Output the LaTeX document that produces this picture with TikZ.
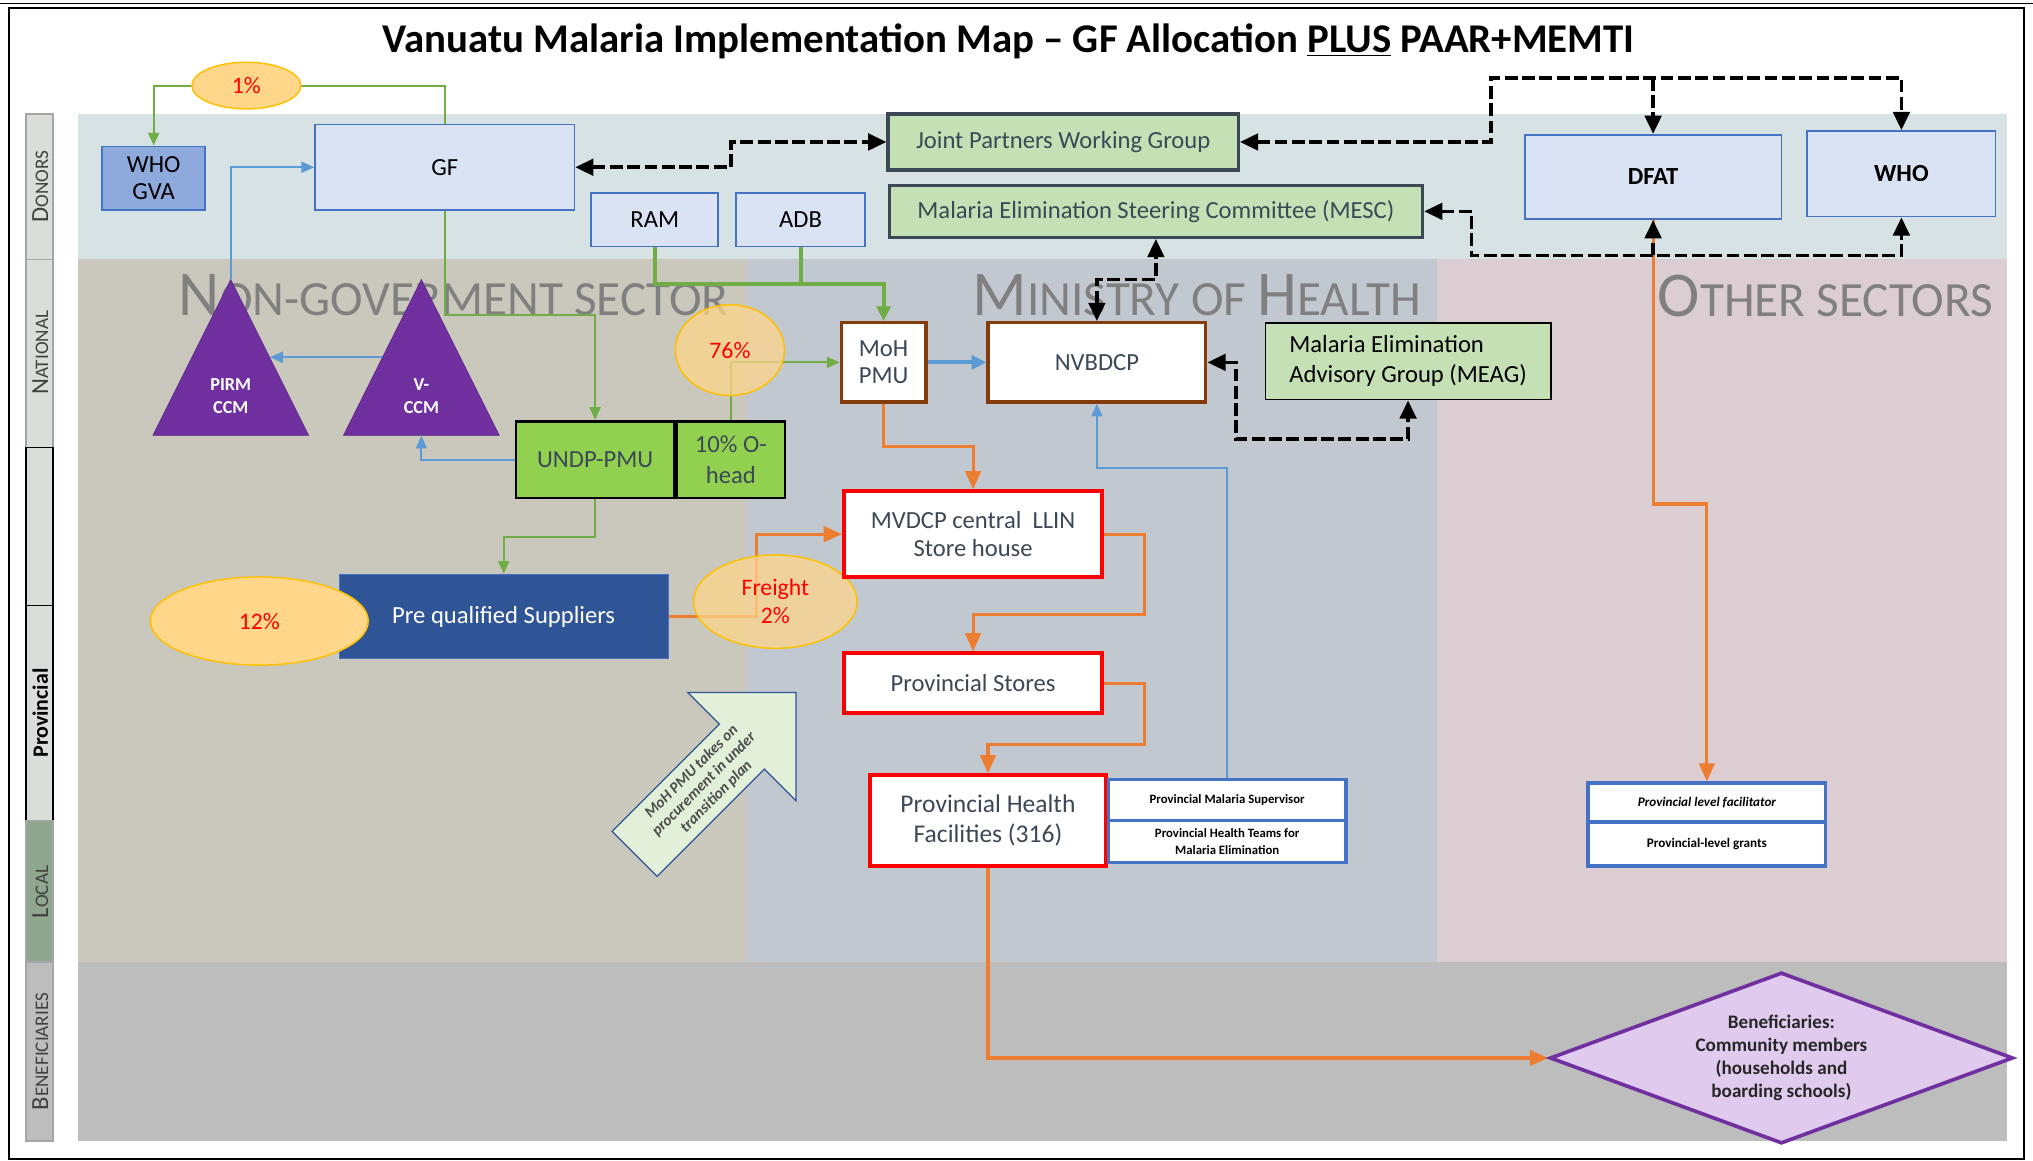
\documentclass[tikz,border=0pt]{standalone}
\usepackage{fontspec}
\setmainfont{Carlito}
\usetikzlibrary{arrows.meta, calc, positioning, shapes.geometric, shapes.arrows}
\definecolor{donorbg}{RGB}{214,226,227}
\definecolor{ngobg}{RGB}{202,200,188}
\definecolor{mohbg}{RGB}{194,200,207}
\definecolor{otherbg}{RGB}{220,205,211}
\definecolor{benbg}{RGB}{189,189,189}
\definecolor{boxblue}{RGB}{218,227,243}
\definecolor{edgeblue}{RGB}{68,114,196}
\definecolor{lineblue}{RGB}{91,155,213}
\definecolor{linegreen}{RGB}{112,173,71}
\definecolor{lineorange}{RGB}{237,125,49}
\definecolor{palegreen}{RGB}{197,224,180}
\definecolor{limegreen}{RGB}{146,208,80}
\definecolor{slate}{RGB}{59,72,86}
\definecolor{brownedge}{RGB}{132,60,12}
\definecolor{ccmpurple}{RGB}{112,48,160}
\definecolor{lilac}{RGB}{224,203,238}
\definecolor{navy}{RGB}{47,85,151}
\definecolor{pctfill}{RGB}{255,214,138}
\definecolor{pctedge}{RGB}{255,192,0}
\definecolor{arrowgreen}{RGB}{226,240,217}
\definecolor{whogva}{RGB}{142,169,219}
\definecolor{locgreen}{RGB}{143,166,143}
\definecolor{stripgray}{RGB}{218,222,218}

\pgfdeclarelayer{bands}
\pgfdeclarelayer{links}
\pgfsetlayers{bands,links,main}

\newcommand{\boxfont}{\fontsize{13.5}{16}\selectfont}
\newcommand{\hcap}[1]{{\fontsize{35}{35}\selectfont #1}}
\newcommand{\lcap}[1]{{\fontsize{13.5}{13.5}\selectfont #1}}

\begin{document}
\begin{tikzpicture}[x=0.025cm, y=-0.025cm,
  box/.style={draw=edgeblue, fill=boxblue, line width=0.9pt, font=\boxfont, align=center, inner sep=1pt},
  forum/.style={draw=slate, fill=palegreen, line width=1.8pt, text=slate, font=\boxfont, inner sep=1pt},
  pmubox/.style={draw=black, fill=limegreen, line width=1.5pt, text=slate, font=\fontsize{13.5}{17}\selectfont, align=center, inner sep=1pt},
  mohbox/.style={draw=brownedge, fill=white, line width=1.8pt, text=slate, font=\fontsize{13.5}{15}\selectfont, align=center, inner sep=1pt},
  store/.style={draw=red, fill=white, line width=2.2pt, text=slate, font=\fontsize{13.5}{15.6}\selectfont, align=center, inner sep=1pt},
  tag/.style={draw=edgeblue, fill=white, line width=1.8pt, font=\fontsize{7}{9.5}\selectfont\bfseries, align=center, inner sep=0pt},
  pct/.style={ellipse, draw=pctedge, fill=pctfill, line width=0.8pt, text=red, font=\fontsize{13}{15.6}\selectfont, align=center, inner sep=0pt},
  ccm/.style={isosceles triangle, isosceles triangle stretches, shape border rotate=90, fill=ccmpurple, draw=ccmpurple!85!black, minimum width=3cm, minimum height=3cm, inner sep=0pt},
  ccmtext/.style={text=white, font=\fontsize{10}{12.8}\selectfont\bfseries, align=center},
  heading/.style={text=black!50, font=\fontsize{27}{27}\selectfont, inner sep=0pt},
  level/.style={draw=gray!70, fill=stripgray, line width=0.8pt},
  levellabel/.style={rotate=90, text=black!75, font=\fontsize{10.5}{10.5}\selectfont, inner sep=0pt},
  bigarrow/.style={single arrow, draw=navy, fill=arrowgreen, line width=0.7pt, single arrow head extend=0.72cm, minimum height=4.4cm, minimum width=2.95cm, inner sep=1pt, text=black!70, font=\fontsize{8.5}{9.6}\selectfont\bfseries\itshape, align=center},
  greenline/.style={draw=linegreen, line width=1.1pt, >={Triangle[length=7pt,width=6pt]}, ->},
  greenthick/.style={draw=linegreen, line width=2.3pt, >={Triangle[length=8pt,width=7.5pt]}, ->},
  blueline/.style={draw=lineblue, line width=1.1pt, >={Triangle[length=7pt,width=6pt]}, ->},
  bluethick/.style={draw=lineblue, line width=2.3pt, >={Triangle[length=8pt,width=7.5pt]}, ->},
  orangeline/.style={draw=lineorange, line width=1.7pt, >={Triangle[length=10pt,width=8.5pt]}, ->},
  dashlink/.style={draw=black, line width=2pt, dash pattern=on 7pt off 2.5pt, >={Triangle[length=10pt,width=9pt]}},
]
\useasboundingbox (0,0) rectangle (1568,895);

% Frame
\draw[black, line width=0.8pt] (0,2.5) -- (1568,2.5);
\draw[black, line width=0.8pt] (7,6) rectangle (1561,894);

% Title
\node[font=\fontsize{22.4}{26}\selectfont\bfseries] (title) at (778,32)
  {Vanuatu Malaria Implementation Map -- GF Allocation \underline{PLUS} PAAR+MEMTI};

% Sector bands
\begin{pgfonlayer}{bands}
\fill[donorbg] (60,88) rectangle (1548,200);
\fill[ngobg] (60,200) rectangle (575,742);
\fill[mohbg] (575,200) rectangle (1108,742);
\fill[otherbg] (1108,200) rectangle (1548,742);
\fill[benbg] (60,742) rectangle (1548,880);
\node[heading] (ngohead) at (350,228) {\hcap{N}ON-GOVERMENT SECTOR};
\node[heading] (mohhead) at (923,228) {\hcap{M}INISTRY OF \hcap{H}EALTH};
\node[heading] (otherhead) at (1408,228) {\hcap{O}THER SECTORS};
\end{pgfonlayer}

% Levels
\filldraw[level] (20,88) rectangle (41,200);
\filldraw[level] (20,200) rectangle (41,345);
\filldraw[level, draw=black] (20,345) rectangle (41,467);
\filldraw[level, draw=black] (20,467) rectangle (41,633);
\filldraw[level, fill=locgreen] (20,633) rectangle (41,742);
\filldraw[level, fill=benbg] (20,742) rectangle (41,880);
\node[levellabel] (donorslbl) at (31,144) {\lcap{D}ONORS};
\node[levellabel] (nationallbl) at (31,272) {\lcap{N}ATIONAL};
\node[levellabel, text=black, font=\fontsize{12}{12}\selectfont\bfseries] (provlbl) at (31,550) {Provincial};
\node[levellabel] (locallbl) at (31,688) {\lcap{L}OCAL};
\node[levellabel] (benlbl) at (31,811) {\lcap{B}ENEFICIARIES};

% Donors
\node[box, fill=whogva, font=\fontsize{13.5}{15}\selectfont, minimum width=1.98cm, minimum height=1.23cm] (whogva) at (118.5,137.5) {WHO\\GVA};
\node[box, minimum width=5cm, minimum height=1.65cm] (gf) at (343,129) {GF};
\node[box, minimum width=2.45cm, minimum height=1.03cm] (ram) at (505,169.5) {RAM};
\node[box, minimum width=2.48cm, minimum height=1.03cm] (adb) at (617.5,169.5) {ADB};
\node[forum, minimum width=6.75cm, minimum height=1.08cm] (jpwg) at (820,109.5) {Joint Partners Working Group};
\node[forum, minimum width=10.28cm, minimum height=1cm] (mesc) at (891.5,163) {Malaria Elimination Steering Committee (MESC)};
\node[box, font=\boxfont\bfseries, minimum width=4.95cm, minimum height=1.63cm] (dfat) at (1275,136.5) {DFAT};
\node[box, font=\boxfont\bfseries, minimum width=3.63cm, minimum height=1.65cm] (who) at (1466.5,134) {WHO};
\coordinate (topbus) at (1150,60);
\coordinate (lowbus) at (1135,197);

% Non-government sector
\node[ccm, anchor=apex] (pirm) at (178,215) {};
\node[ccm, anchor=apex] (vccm) at (325,215) {};
\node[ccmtext] (pirmtext) at ($(pirm.apex)!0.75!(pirm.lower side)$) {PIRM\\CCM};
\node[ccmtext] (vccmtext) at ($(vccm.apex)!0.75!(vccm.lower side)$) {V-\\CCM};
\node[pmubox, minimum width=3.05cm, minimum height=1.48cm] (undp) at (459,354.5) {UNDP-PMU};
\node[pmubox, minimum width=2.08cm, minimum height=1.48cm, right=0pt of undp] (ohead) {10\% O-\\head};
\node[draw=edgeblue, fill=navy, text=white, font=\boxfont, minimum width=6.33cm, minimum height=1.63cm] (suppl) at (388.5,475.5) {Pre qualified Suppliers};

% Shares
\node[pct, minimum width=2.1cm, minimum height=0.9cm] (p1) at (190,66) {1\%};
\node[pct, minimum width=2.1cm, minimum height=1.75cm, fill opacity=0.75, text opacity=1] (p76) at (563,270) {76\%};
\node[pct, minimum width=4.2cm, minimum height=1.7cm] (p12) at (200,479) {12\%};
\node[pct, minimum width=3.15cm, minimum height=1.8cm, fill opacity=0.75, text opacity=1] (freight) at (598,464) {Freight\\2\%};

% Ministry of Health
\node[mohbox, minimum width=1.63cm, minimum height=1.53cm] (mohpmu) at (681.5,279.5) {MoH\\PMU};
\node[mohbox, minimum width=4.2cm, minimum height=1.53cm] (nvbdcp) at (846,279.5) {NVBDCP};
\node[draw=black, fill=palegreen, line width=1pt, font=\fontsize{13.5}{16.3}\selectfont, align=left, minimum width=5.5cm, minimum height=1.48cm] (meag) at (1086,278.5) {Malaria Elimination\\Advisory Group (MEAG)};
\node[store, minimum width=4.98cm, minimum height=1.65cm] (central) at (750.5,412) {MVDCP central\ \ LLIN\\Store house};
\node[store, minimum width=4.98cm, minimum height=1.15cm] (provstores) at (750.5,527) {Provincial Stores};
\node[store, font=\fontsize{14}{16.3}\selectfont, minimum width=4.55cm, minimum height=1.75cm] (phf) at (762,633) {Provincial Health\\Facilities (316)};
\node[tag, minimum width=4.58cm, minimum height=0.8cm] (supervisor) at (946.5,617) {Provincial Malaria Supervisor};
\node[tag, minimum width=4.58cm, minimum height=0.8cm] (teams) at (946.5,649) {Provincial Health Teams for\\Malaria Elimination};
\node[bigarrow, rotate=45] (transition) at (543,605) {MoH PMU takes on\\procurement in under\\transition plan};

% Other sectors
\node[tag, font=\fontsize{7.2}{9.5}\selectfont\bfseries\itshape, minimum width=4.58cm, minimum height=0.75cm] (facilitator) at (1316.5,619) {Provincial level facilitator};
\node[tag, font=\fontsize{7.2}{9.5}\selectfont\bfseries, minimum width=4.58cm, minimum height=0.85cm] (grants) at (1316.5,651) {Provincial-level grants};

% Beneficiaries
\node[diamond, draw=ccmpurple, fill=lilac, line width=2pt, aspect=2.7, inner sep=0pt, minimum width=8.93cm, minimum height=3.3cm, text=black!85, font=\fontsize{10.5}{12.5}\selectfont\bfseries, align=center] (benef) at (1374,816) {Beneficiaries:\\Community members\\(households and\\boarding schools)};

\begin{pgfonlayer}{links}
% Funds
\draw[greenline] (gf.north) |- (p1.center) -| (whogva.north);
\draw[greenline] (gf.south) -- ++(0,80) -| (undp.north);
\draw[greenthick] (ram.south) -- ++(0,28) -| (mohpmu.north);
\draw[greenthick, -] (adb.south) -- ++(0,28);
\draw[greenline] (ohead.north) |- (mohpmu.west);
\draw[greenline] (undp.south) -- ++(0,29) -| (suppl.north);

% Oversight
\draw[blueline] (pirm.apex) |- (gf.west);
\draw[blueline] (vccm.left side) -- (pirm.right side);
\draw[blueline] (undp.west) -| (vccm.lower side);
\draw[bluethick] (mohpmu.east) -- (nvbdcp.west);
\draw[blueline] (supervisor.north) -- ++(0,-239) -| (nvbdcp.south);

% Commodities
\draw[orangeline] (mohpmu.south) -- ++(0,33) -| (central.north);
\draw[orangeline] (suppl.east) -- ++(68,0) |- (central.west);
\draw[orangeline] (central.east) -- ++(31,0) -- ++(0,62) -| (provstores.north);
\draw[orangeline] (provstores.east) -- ++(31,0) -- ++(0,47) -| (phf.north);
\draw[orangeline] (phf.south) |- (benef.west);
\draw[orangeline] (dfat.south) -- ++(0,219) -| (facilitator.north);

% Coordination
\draw[dashlink, <->] (gf.east) -- ++(120,0) |- (jpwg.west);
\draw[dashlink, <->] (jpwg.east) -| (topbus) -| (who.north);
\draw[dashlink, ->] (dfat.north |- topbus) -- (dfat.north);
\draw[dashlink, <->] (mesc.east) -| (lowbus) -| (who.south);
\draw[dashlink, ->] (dfat.south |- lowbus) -- (dfat.south);
\draw[dashlink, <->] (nvbdcp.north) -- ++(0,-32) -| (mesc.south);
\draw[dashlink, <->] (nvbdcp.east) -- ++(22,0) |- ($(meag.south)+(0,30)$) -- (meag.south);
\end{pgfonlayer}

\end{tikzpicture}
\end{document}
